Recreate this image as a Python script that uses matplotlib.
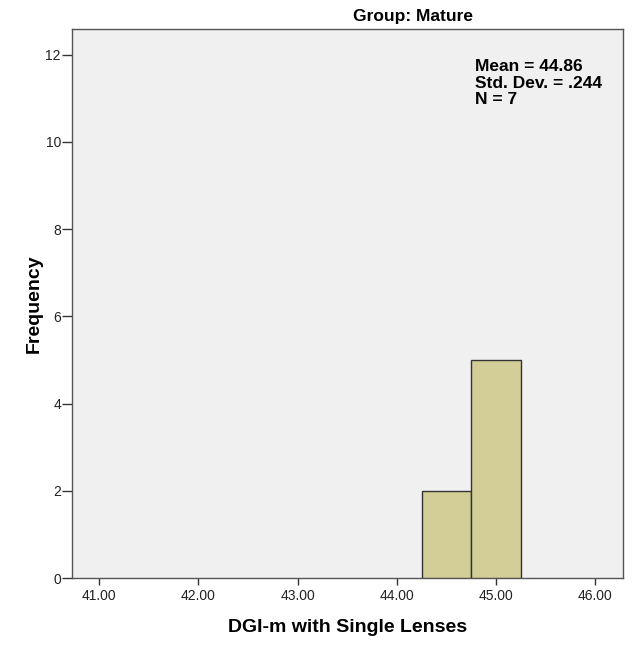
import matplotlib
matplotlib.use("Agg")
import matplotlib.pyplot as plt

plt.rcParams['font.family'] = ['Liberation Sans', 'Arial', 'DejaVu Sans']

bin_edges = [44.25, 44.75, 45.25]
counts = [2, 5]
x_ticks = [41.0, 42.0, 43.0, 44.0, 45.0, 46.0]
y_ticks = [0, 2, 4, 6, 8, 10, 12]
title = "Group: Mature"
xlabel = "DGI-m with Single Lenses"
ylabel = "Frequency"
stats_lines = ["Mean = 44.86", "Std. Dev. = .244", "N = 7"]

W, H = 636, 647
fig = plt.figure(figsize=(W / 100, H / 100), dpi=100)
L, R, T, B = 72, 623, 29, 578
ax = fig.add_axes([L / W, 1 - B / H, (R - L) / W, (B - T) / H])
ax.set_facecolor('#F0F0F0')

lefts = bin_edges[:-1]
widths = [bin_edges[i + 1] - bin_edges[i] for i in range(len(counts))]
ax.bar(lefts, counts, width=widths, align='edge', color='#D3CE97',
       edgecolor='#333333', linewidth=1.0, zorder=3)

ax.set_xlim(40.725, 46.28)
ax.set_ylim(0, 12.59)
ax.set_xticks(x_ticks)
ax.set_xticklabels([f"{v:.2f}" for v in x_ticks])
ax.set_yticks(y_ticks)
ax.set_yticklabels([str(v) for v in y_ticks])
ax.tick_params(axis='both', direction='out', width=1, color='#333333',
               labelsize=10, labelcolor='#222222', top=False, right=False)
ax.tick_params(axis='x', length=5, pad=3)
ax.tick_params(axis='y', length=7, pad=1)
for s in ax.spines.values():
    s.set_color('#555555')
    s.set_linewidth(1.0)

ax.set_xlabel(xlabel, fontsize=14, fontweight='bold', va='top')
ax.xaxis.set_label_coords(0.5, (B - 619.5) / (B - T))
ax.set_ylabel(ylabel, fontsize=14, fontweight='bold', labelpad=2)

fig.text(353 / W, 1 - 20.5 / H, title, fontsize=12.5, fontweight='bold',
         ha='left', va='baseline')

baselines = [70.7, 87.5, 104.5]
for line, yb in zip(stats_lines, baselines):
    fig.text(475 / W, 1 - yb / H, line, fontsize=12.5, fontweight='bold',
             ha='left', va='baseline')

fig.savefig('out.png', dpi=100)
